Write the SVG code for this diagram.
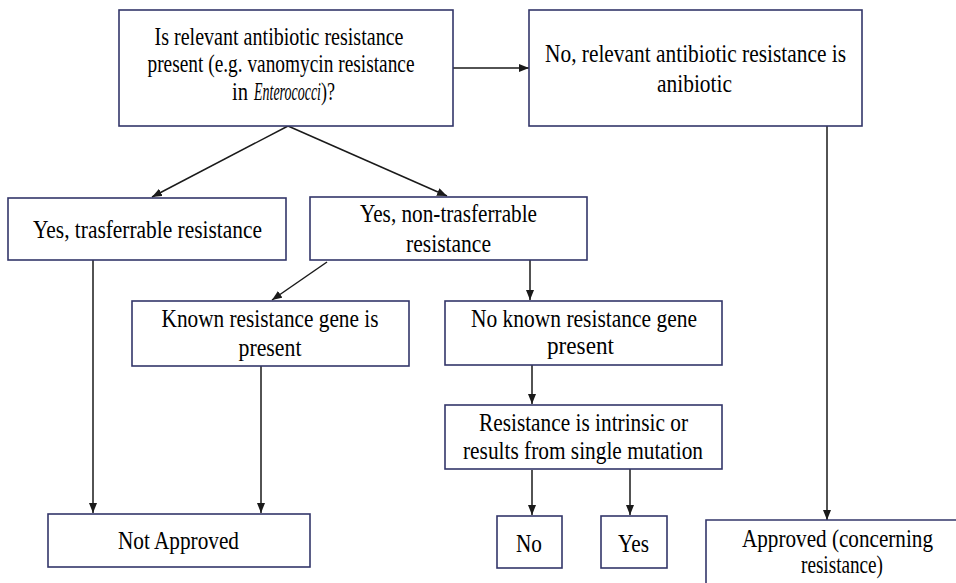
<svg xmlns="http://www.w3.org/2000/svg" width="956" height="583" viewBox="0 0 956 583" font-family="'Liberation Serif', 'Times New Roman', Times, serif">
<style>
.box{fill:#fff;stroke:#33366a;stroke-width:1.6}
.edge{fill:none;stroke:#33366a;stroke-width:1.6}
.t{font-size:25px;fill:#000;text-anchor:middle}
.c{stroke:#1a1a1a;stroke-width:1.5;fill:none;marker-end:url(#ah)}
</style>
<defs>
<marker id="ah" markerUnits="userSpaceOnUse" markerWidth="10" markerHeight="8" viewBox="0 0 10 8" refX="10" refY="4" orient="auto">
<path d="M0,0 L10,4 L0,8 Z" fill="#1a1a1a"/>
</marker>
</defs>
<rect width="956" height="583" fill="#fff"/>
<g id="connectors">
<line class="c" x1="453" y1="68" x2="529" y2="68"/>
<line class="c" x1="288" y1="126" x2="152" y2="197"/>
<line class="c" x1="288" y1="126" x2="447" y2="196"/>
<line class="c" x1="93" y1="260" x2="93" y2="513"/>
<line class="c" x1="327" y1="262" x2="272" y2="300"/>
<line class="c" x1="530" y1="260" x2="530" y2="300"/>
<line class="c" x1="261" y1="366" x2="261" y2="513"/>
<line class="c" x1="532" y1="365" x2="532" y2="404"/>
<line class="c" x1="532" y1="470" x2="532" y2="515"/>
<line class="c" x1="630" y1="469" x2="630" y2="515"/>
<line class="c" x1="827" y1="126" x2="827" y2="520"/>
</g>
<g id="n-question">
<rect class="box" x="119" y="10" width="334" height="116"/>
<text class="t" x="279" y="45" textLength="249" lengthAdjust="spacingAndGlyphs">Is relevant antibiotic resistance</text>
<text class="t" x="281" y="72" textLength="267" lengthAdjust="spacingAndGlyphs">present (e.g. vanomycin resistance</text>
<text class="t" y="100" style="text-anchor:start"><tspan x="232" textLength="16" lengthAdjust="spacingAndGlyphs">in</tspan><tspan x="254" font-style="italic" textLength="67" lengthAdjust="spacingAndGlyphs">Enterococci</tspan><tspan x="321" textLength="14" lengthAdjust="spacingAndGlyphs">)?</tspan></text>
</g>
<g id="n-no">
<rect class="box" x="529" y="10" width="333" height="116"/>
<text class="t" x="695.5" y="62" textLength="301" lengthAdjust="spacingAndGlyphs">No, relevant antibiotic resistance is</text>
<text class="t" x="694.5" y="92" textLength="75" lengthAdjust="spacingAndGlyphs">anibiotic</text>
</g>
<g id="n-transferrable">
<rect class="box" x="8" y="198" width="278" height="62"/>
<text class="t" x="147.5" y="238" textLength="229" lengthAdjust="spacingAndGlyphs">Yes, trasferrable resistance</text>
</g>
<g id="n-nontransferrable">
<rect class="box" x="310" y="197" width="277" height="63"/>
<text class="t" x="448.5" y="222" textLength="177" lengthAdjust="spacingAndGlyphs">Yes, non-trasferrable</text>
<text class="t" x="448.5" y="252" textLength="85" lengthAdjust="spacingAndGlyphs">resistance</text>
</g>
<g id="n-known">
<rect class="box" x="132" y="301" width="277" height="65"/>
<text class="t" x="270" y="327" textLength="217" lengthAdjust="spacingAndGlyphs">Known resistance gene is</text>
<text class="t" x="270" y="356" textLength="63" lengthAdjust="spacingAndGlyphs">present</text>
</g>
<g id="n-noknown">
<rect class="box" x="445" y="301" width="277" height="64"/>
<text class="t" x="584" y="327" textLength="226" lengthAdjust="spacingAndGlyphs">No known resistance gene</text>
<text class="t" x="580.5" y="354" textLength="67" lengthAdjust="spacingAndGlyphs">present</text>
</g>
<g id="n-intrinsic">
<rect class="box" x="445" y="405" width="277" height="64"/>
<text class="t" x="583.5" y="431" textLength="209" lengthAdjust="spacingAndGlyphs">Resistance is intrinsic or</text>
<text class="t" x="583" y="459" textLength="240" lengthAdjust="spacingAndGlyphs">results from single mutation</text>
</g>
<g id="n-notapproved">
<rect class="box" x="48" y="514" width="262" height="53"/>
<text class="t" x="178.5" y="549" textLength="121" lengthAdjust="spacingAndGlyphs">Not Approved</text>
</g>
<g id="n-answer-no">
<rect class="box" x="497" y="516" width="65" height="52"/>
<text class="t" x="529" y="552" textLength="26" lengthAdjust="spacingAndGlyphs">No</text>
</g>
<g id="n-answer-yes">
<rect class="box" x="601" y="516" width="66" height="52"/>
<text class="t" x="633.5" y="552" textLength="31" lengthAdjust="spacingAndGlyphs">Yes</text>
</g>
<g id="n-approved">
<rect x="706" y="520" width="250" height="63" fill="#fff"/>
<path class="edge" d="M706,583 V520 H956"/>
<text class="t" x="837.5" y="547" textLength="191" lengthAdjust="spacingAndGlyphs">Approved (concerning</text>
<text class="t" x="842" y="573" textLength="82" lengthAdjust="spacingAndGlyphs">resistance)</text>
</g>
</svg>
